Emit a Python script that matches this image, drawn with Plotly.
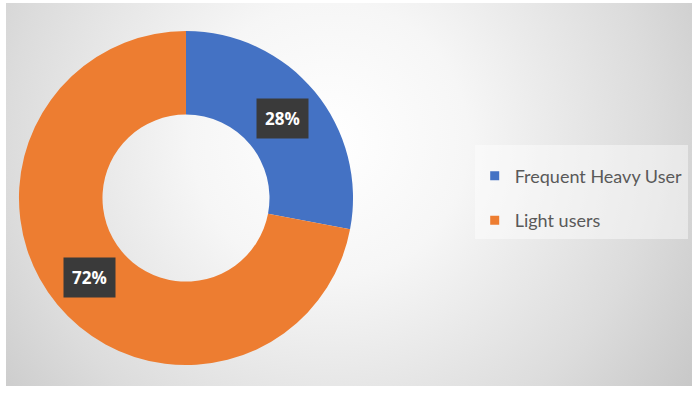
import base64, math
import plotly.graph_objects as go

labels = ["Frequent Heavy User", "Light users"]
values = [28, 72]
colors = ["#4472C4", "#ED7D31"]

W, H = 694, 393
hole = 0.5
dom_x = [0.027, 0.509]
dom_y = [0.071, 0.921]

svg = f'''<svg xmlns="http://www.w3.org/2000/svg" width="{W}" height="{H}">
<defs><radialGradient id="g" gradientUnits="userSpaceOnUse" cx="330" cy="140" r="460">
<stop offset="0" stop-color="#ffffff"/><stop offset="0.3" stop-color="#f6f6f6"/>
<stop offset="0.7" stop-color="#dcdcdc"/><stop offset="1" stop-color="#c4c4c4"/></radialGradient></defs>
<rect width="{W}" height="{H}" fill="#ffffff"/>
<rect x="6" y="3" width="{W-8}" height="{H-10}" fill="url(#g)"/></svg>'''
bg = "data:image/svg+xml;base64," + base64.b64encode(svg.encode()).decode()

fig = go.Figure()
fig.add_trace(go.Pie(
    labels=labels, values=values, hole=hole, sort=False, direction="clockwise",
    rotation=0, marker=dict(colors=colors, line=dict(width=0)),
    textinfo="none", showlegend=False, hoverinfo="skip",
    domain=dict(x=dom_x, y=dom_y),
))

for i, (lab, col) in enumerate(zip(labels, colors)):
    fig.add_trace(go.Scatter(
        x=[None], y=[None], mode="markers", name=lab, legendgroup=f"g{i}",
        marker=dict(symbol="square", size=9, color=col),
    ))

# percentage labels at slice mid-angles
total = sum(values)
cx = (dom_x[0] + dom_x[1]) / 2
cy = (dom_y[0] + dom_y[1]) / 2
R = min((dom_x[1] - dom_x[0]) * W, (dom_y[1] - dom_y[0]) * H) / 2
rm = R * (1 + hole) / 2
cum = 0
annotations = []
for v in values:
    a = 2 * math.pi * (cum + v / 2) / total
    cum += v
    annotations.append(dict(
        x=cx + rm * math.sin(a) / W, y=cy + rm * math.cos(a) / H,
        xref="paper", yref="paper", showarrow=False,
        xanchor="center", yanchor="middle",
        text=f"<b>{round(100 * v / total)}%</b>",
        font=dict(family="Open Sans", size=17, color="white"),
        bgcolor="#3a3a3a", borderpad=8,
    ))

fig.update_layout(
    width=W, height=H, margin=dict(l=0, r=0, t=0, b=0),
    paper_bgcolor="#ffffff", plot_bgcolor="rgba(0,0,0,0)",
    xaxis=dict(visible=False), yaxis=dict(visible=False),
    images=[dict(source=bg, xref="paper", yref="paper", x=0, y=1, sizex=1, sizey=1,
                 sizing="stretch", layer="below", xanchor="left", yanchor="top")],
    showlegend=True,
    legend=dict(x=0.684, y=0.632, xanchor="left", yanchor="top",
                bgcolor="rgba(255,255,255,0.45)", borderwidth=0,
                font=dict(family="Lato", size=18, color="#595959"),
                title=dict(text=" ", font=dict(size=10)),
                tracegroupgap=18, itemwidth=30),
    annotations=annotations,
)
fig.write_html("out.html")
